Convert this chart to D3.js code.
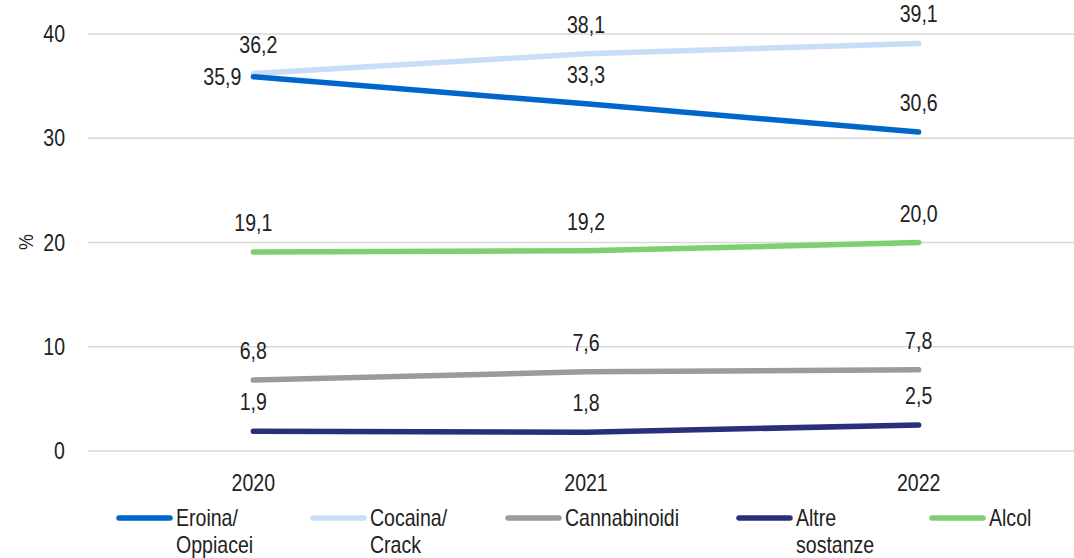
<!DOCTYPE html>
<html><head><meta charset="utf-8">
<script src="https://cdn.jsdelivr.net/npm/d3@7"></script>
<style>
body{margin:0;background:#fff;}
text{font-family:"Liberation Sans",Arial,sans-serif;fill:#222;}
</style></head><body>
<svg id="c" width="1074" height="558"></svg>
<script>
const years = ["2020","2021","2022"];
const seriesNames = ["Eroina/ Oppiacei","Cocaina/ Crack","Cannabinoidi","Altre sostanze","Alcol"];
const legendLines = [["Eroina/","Oppiacei"],["Cocaina/","Crack"],["Cannabinoidi"],["Altre","sostanze"],["Alcol"]];
const eroina = [35.9,33.3,30.6];
const cocaina = [36.2,38.1,39.1];
const cannabinoidi = [6.8,7.6,7.8];
const altre = [1.9,1.8,2.5];
const alcol = [19.1,19.2,20.0];
const colors = ["#0066cc","#c9dcf8","#9b9b9b","#28307a","#7dcf6f"];
const yTicks = [0,10,20,30,40];

const series = [eroina,cocaina,cannabinoidi,altre,alcol];
const svg = d3.select("#c");
const x = d3.scaleBand().domain(years).range([87,1085]);
const cx = d => x(d)+x.bandwidth()/2;
const y = d3.scaleLinear().domain([0,40]).range([451,34]);
const fmt = v => d3.format(".1f")(v).replace(".",",");
const SX = 0.85, FS = 23;

function txt(parent, tx, ty, s, anchor, size){
  return parent.append("text")
    .attr("transform",`translate(${tx},${ty}) scale(${SX},1)`)
    .attr("dy","0.35em").attr("text-anchor",anchor||"start")
    .attr("font-size",size||FS).text(s);
}

// gridlines
svg.append("g").selectAll("line").data(yTicks).join("line")
  .attr("x1",88).attr("x2",1074).attr("y1",d=>y(d)).attr("y2",d=>y(d))
  .attr("stroke","#d9d9d9").attr("stroke-width",1.3);
// y labels
const gy = svg.append("g");
yTicks.forEach(d=>txt(gy,65,y(d),d,"end"));
svg.append("text").attr("transform","translate(26,242) rotate(-90) scale(0.85,1)")
  .attr("text-anchor","middle").attr("dy","0.35em").attr("font-size",21).text("%");
// x labels
const gx = svg.append("g");
years.forEach(d=>txt(gx,cx(d),483,d,"middle"));

const line = d3.line().x((v,i)=>cx(years[i])).y(v=>y(v));
const drawOrder = [4,2,3,1,0];
drawOrder.forEach(k=>{
  svg.append("path").datum(series[k]).attr("d",line).attr("fill","none")
    .attr("stroke",colors[k]).attr("stroke-width",5.5).attr("stroke-linecap","round");
});
// data labels
const gl = svg.append("g");
series.forEach((s,k)=>{
  s.forEach((v,i)=>{
    let tx = cx(years[i]), ty = y(v)-29, anchor="middle";
    if(k===0 && i===0){ tx = cx(years[i])-12; ty = y(v); anchor="end"; }
    if(k===1 && i===0){ tx = cx(years[i])+5; }
    txt(gl,tx,ty,fmt(v),anchor);
  });
});
// legend
const legX = [117,311,506,737,930];
legendLines.forEach((lines,k)=>{
  const g = svg.append("g").attr("transform",`translate(${legX[k]},518)`);
  g.append("line").attr("x1",2).attr("x2",53).attr("y1",0).attr("y2",0)
    .attr("stroke",colors[k]).attr("stroke-width",5.5).attr("stroke-linecap","round");
  lines.forEach((t,j)=>txt(g,59,j*27,t,"start"));
});
</script></body></html>
